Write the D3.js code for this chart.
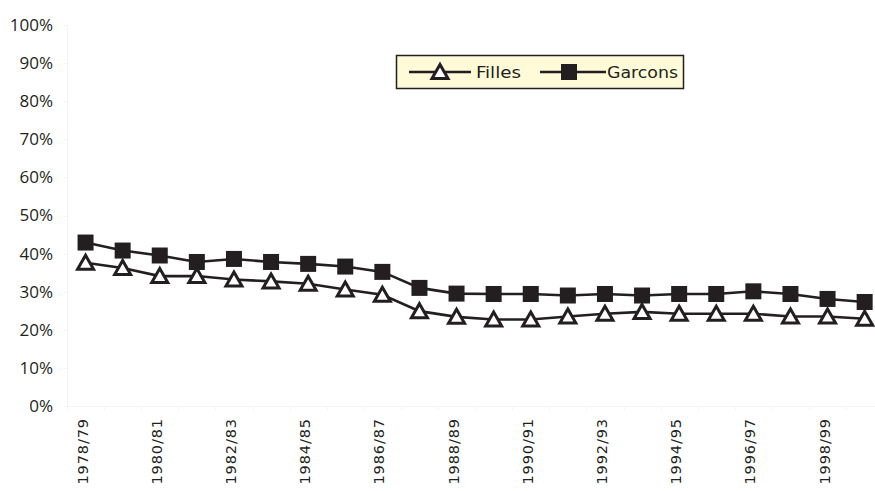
<!DOCTYPE html>
<html>
<head>
<meta charset="utf-8">
<script src="https://cdn.jsdelivr.net/npm/d3@7"></script>
<style>
  html, body { margin: 0; padding: 0; background: #ffffff; }
  svg { display: block; }
</style>
</head>
<body>
<svg id="chart" width="875" height="491"></svg>
<script>
// School years shown on the horizontal axis
const years = [
  "1978/79", "1979/80", "1980/81", "1981/82", "1982/83", "1983/84",
  "1984/85", "1985/86", "1986/87", "1987/88", "1988/89", "1989/90",
  "1990/91", "1991/92", "1992/93", "1993/94", "1994/95", "1995/96",
  "1996/97", "1997/98", "1998/99", "1999/00"
];

// Share (in %) for each series
const filles = [
  37.6, 36.2, 34.1, 34.1, 33.2, 32.7, 32.1, 30.6, 29.2, 24.9, 23.4,
  22.7, 22.7, 23.5, 24.2, 24.7, 24.2, 24.2, 24.2, 23.5, 23.5, 22.9
];
const garcons = [
  42.9, 40.8, 39.5, 37.8, 38.6, 37.8, 37.3, 36.6, 35.2, 31.0, 29.5,
  29.4, 29.4, 29.0, 29.4, 29.0, 29.4, 29.4, 30.1, 29.4, 28.1, 27.3
];

const yTicks = [0, 10, 20, 30, 40, 50, 60, 70, 80, 90, 100];
const seriesNames = ["Filles", "Garcons"];

const ink = "#231f20";
const svg = d3.select("#chart");

const x = d3.scaleBand().domain(years).range([67, 67 + 22 * 37.1]);
const y = d3.scaleLinear().domain([0, 100]).range([406, 25]);
const cx = d => x(d) + x.bandwidth() / 2;

// Very faint axis frame and ticks
const frame = svg.append("g").attr("stroke", "#f4f4f4").attr("stroke-width", 1);
frame.append("line").attr("x1", 67.5).attr("x2", 67.5).attr("y1", y(100)).attr("y2", y(0));
frame.append("line").attr("x1", 67).attr("x2", 875).attr("y1", y(0) + 0.5).attr("y2", y(0) + 0.5);
frame.selectAll(".yt").data(yTicks).join("line")
  .attr("x1", 63).attr("x2", 67).attr("y1", d => Math.round(y(d)) + 0.5).attr("y2", d => Math.round(y(d)) + 0.5);
frame.selectAll(".xt").data(years.concat(["end"])).join("line")
  .attr("x1", (d, i) => Math.round(67 + i * x.step()) + 0.5)
  .attr("x2", (d, i) => Math.round(67 + i * x.step()) + 0.5)
  .attr("y1", y(0)).attr("y2", y(0) + 4);

// Y axis labels
svg.append("g").selectAll("text").data(yTicks).join("text")
  .attr("x", 53).attr("y", d => y(d))
  .attr("dy", "0.35em")
  .attr("text-anchor", "end")
  .attr("font-family", "'Open Sans', sans-serif")
  .attr("font-size", 17)
  .attr("fill", ink)
  .text(d => d + "%");

// X axis labels, every other school year, rotated
svg.append("g").selectAll("text").data(years.filter((d, i) => i % 2 === 0)).join("text")
  .attr("transform", d => `translate(${cx(d) - 3},418) rotate(-90)`)
  .attr("dy", "0.35em")
  .attr("text-anchor", "end")
  .attr("font-family", "'DejaVu Sans', sans-serif")
  .attr("font-size", 14.5)
  .attr("letter-spacing", 0.9)
  .attr("fill", ink)
  .text(d => d);

// Marker shapes
const triPath = "M0,-7.5L8,6.5L-8,6.5Z";
function drawTriangle(g, px, py) {
  g.append("path").attr("d", triPath)
    .attr("transform", `translate(${px},${py})`)
    .attr("fill", "#ffffff").attr("stroke", ink).attr("stroke-width", 3)
    .attr("stroke-linejoin", "miter");
}
function drawSquare(g, px, py) {
  g.append("rect").attr("x", px - 8).attr("y", py - 8)
    .attr("width", 16).attr("height", 16).attr("fill", ink);
}

const line = d3.line().x((d, i) => cx(years[i])).y(d => y(d));

// Garcons series
const gG = svg.append("g");
gG.append("path").datum(garcons).attr("d", line)
  .attr("fill", "none").attr("stroke", ink).attr("stroke-width", 2.6);
garcons.forEach((v, i) => drawSquare(gG, cx(years[i]), y(v)));

// Filles series
const gF = svg.append("g");
gF.append("path").datum(filles).attr("d", line)
  .attr("fill", "none").attr("stroke", ink).attr("stroke-width", 2.6);
filles.forEach((v, i) => drawTriangle(gF, cx(years[i]), y(v)));

// Legend
const lg = svg.append("g");
lg.append("rect").attr("x", 396.5).attr("y", 55.5).attr("width", 287).attr("height", 33)
  .attr("fill", "#fffbd8").attr("stroke", ink).attr("stroke-width", 1.5);
const ly = 72;
lg.append("line").attr("x1", 409).attr("x2", 471).attr("y1", ly).attr("y2", ly)
  .attr("stroke", ink).attr("stroke-width", 2.6);
drawTriangle(lg, 440, ly);
lg.append("text").attr("x", 476).attr("y", ly).attr("dy", "0.36em")
  .attr("font-family", "'DejaVu Sans Condensed', 'DejaVu Sans', sans-serif")
  .attr("font-size", 16).attr("fill", ink)
  .attr("textLength", 45).attr("lengthAdjust", "spacingAndGlyphs")
  .text(seriesNames[0]);
lg.append("line").attr("x1", 540).attr("x2", 606).attr("y1", ly).attr("y2", ly)
  .attr("stroke", ink).attr("stroke-width", 2.6);
drawSquare(lg, 569, ly);
lg.append("text").attr("x", 607).attr("y", ly).attr("dy", "0.36em")
  .attr("font-family", "'DejaVu Sans Condensed', 'DejaVu Sans', sans-serif")
  .attr("font-size", 16).attr("fill", ink)
  .attr("textLength", 71).attr("lengthAdjust", "spacingAndGlyphs")
  .text(seriesNames[1]);
</script>
</body>
</html>
